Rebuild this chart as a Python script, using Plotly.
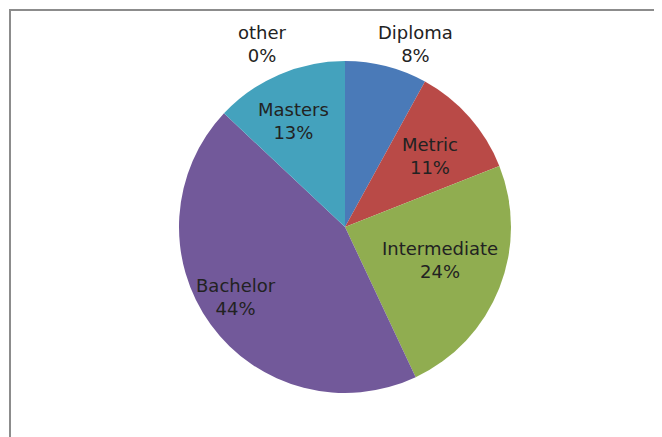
import plotly.graph_objects as go

W, H = 662, 437
OFF = 8  # the page body adds an 8px margin around the figure

labels = ["Diploma", "Metric", "Intermediate", "Bachelor", "Masters", "other"]
values = [8, 11, 24, 44, 13, 0]
colors = ["#4a7ab8", "#b94a47", "#90ad50", "#72599a", "#44a2bd", "#8064a2"]
# label centres in window pixels (Excel places them by hand)
label_xy = [(415, 44), (430, 156), (440, 260), (236, 297), (293, 121), (262, 44)]


def px(x):
    return (x - OFF) / W


def py(y):
    return 1 - (y - OFF) / H


cx, cy, r = 345, 227, 166

fig = go.Figure()

fig.add_trace(
    go.Pie(
        labels=labels,
        values=values,
        sort=False,
        direction="clockwise",
        rotation=0,
        marker=dict(colors=colors, line=dict(width=0)),
        textinfo="none",
        showlegend=False,
        domain=dict(x=[px(cx - r), px(cx + r)], y=[py(cy + r), py(cy - r)]),
        hoverinfo="label+percent",
    )
)

total = sum(values)
for lab, val, (lx, ly) in zip(labels, values, label_xy):
    fig.add_annotation(
        x=px(lx), y=py(ly), xref="paper", yref="paper",
        text=f"{lab}<br>{round(100 * val / total)}%",
        showarrow=False, xanchor="center", yanchor="middle",
        font=dict(family="DejaVu Sans", size=18, color="#222222"),
    )

# chart frame (only the top and left edges fall inside the window)
fig.add_shape(
    type="rect", xref="paper", yref="paper",
    x0=px(10), x1=1.05, y0=-0.05, y1=py(10),
    line=dict(color="#8c8c8c", width=2),
)

fig.update_layout(
    width=W,
    height=H,
    margin=dict(l=0, r=0, t=0, b=0, autoexpand=False),
    paper_bgcolor="white",
    plot_bgcolor="white",
)

fig.write_html("out.html")
